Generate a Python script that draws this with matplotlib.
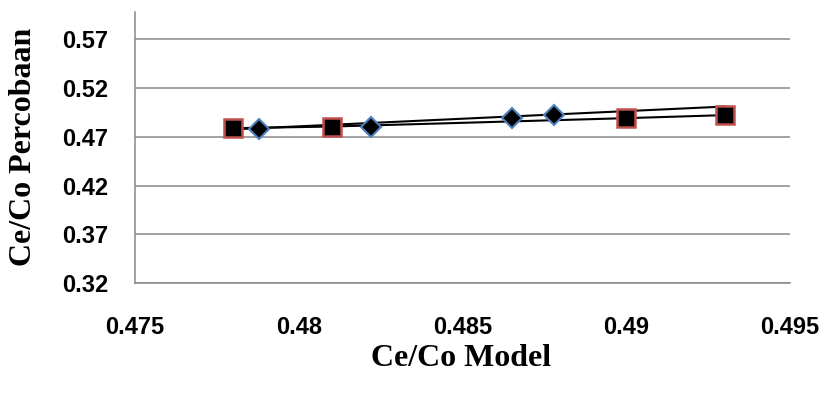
import matplotlib
matplotlib.use("Agg")
import matplotlib.pyplot as plt

# data
model_sq = [0.478, 0.481, 0.490, 0.493]
exp_sq = [0.4788, 0.4805, 0.4891, 0.4922]

model_dia = [0.4788, 0.4822, 0.4865, 0.4878]
exp_dia = [0.4778, 0.4805, 0.4891, 0.4925]

# black straight line that runs above the squares
line_x = [0.478, 0.493]
line_y = [0.4776, 0.5010]

xticks = [0.475, 0.48, 0.485, 0.49, 0.495]
xtick_labels = ["0.475", "0.48", "0.485", "0.49", "0.495"]
yticks = [0.32, 0.37, 0.42, 0.47, 0.52, 0.57]
ytick_labels = ["0.32", "0.37", "0.42", "0.47", "0.52", "0.57"]

grid_col = "#878787"

fig = plt.figure(figsize=(8.22, 3.94), dpi=100)
ax = fig.add_axes([135 / 822, 1 - 283 / 394, (790 - 135) / 822, (283 - 12) / 394])

ax.plot(line_x, line_y, "-", color="black", lw=1.5, zorder=3)
ax.plot(model_sq, exp_sq, "-", color="black", lw=1.5, zorder=3)
ax.plot(model_dia, exp_dia, "D", ms=10, mfc="black", mec="#4F81BD", mew=1.5,
        ls="none", zorder=4)
ax.plot(model_sq, exp_sq, "s", ms=12.5, mfc="black", mec="#C0504D", mew=1.8,
        ls="none", zorder=5)

ax.set_xlim(0.475, 0.495)
ax.set_ylim(0.32, 0.598)
ax.set_xticks(xticks)
ax.set_xticklabels(xtick_labels)
ax.set_yticks(yticks)
ax.set_yticklabels(ytick_labels)

for lab in ax.get_xticklabels() + ax.get_yticklabels():
    lab.set_fontfamily("Liberation Sans")
    lab.set_fontweight("bold")
    lab.set_fontsize(17)

ax.tick_params(axis="x", length=0, pad=24)
ax.tick_params(axis="y", length=0, pad=19)

ax.yaxis.grid(True, color=grid_col, lw=1.1)
ax.set_axisbelow(True)
for s in ["top", "right"]:
    ax.spines[s].set_visible(False)
ax.spines["left"].set_color(grid_col)
ax.spines["bottom"].set_color(grid_col)
ax.spines["left"].set_linewidth(1.1)
ax.spines["bottom"].set_linewidth(1.1)

label_font = dict(family="Liberation Serif", weight="bold", size=23)
fig.text(461 / 822, 1 - 359 / 394, "Ce/Co Model", ha="center", va="center", **label_font)
fig.text(24 / 822, 1 - 147 / 394, "Ce/Co Percobaan", ha="center", va="center",
         rotation=90, **label_font)

fig.savefig("out.png", dpi=100)
